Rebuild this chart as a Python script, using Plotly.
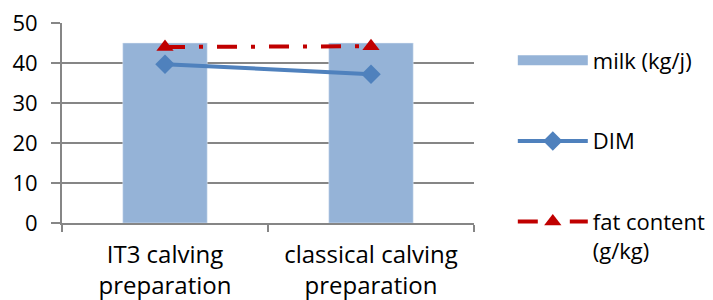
import plotly.graph_objects as go

categories = ["IT3 calving<br>preparation", "classical calving<br>preparation"]
milk = [45, 45]
dim = [39.7, 37.2]
fat = [44.0, 44.2]

FONT = "Open Sans"
GRID = "#868686"
BAR = "#95B3D7"

fig = go.Figure()
fig.add_trace(go.Bar(x=categories, y=milk, name="milk (kg/j)", marker_color=BAR,
                     width=0.41, showlegend=False))
# legend entry for the bars (wide rectangle like the reference)
fig.add_trace(go.Scatter(x=[None], y=[None], name="milk (kg/j)", mode="lines",
                         line=dict(color=BAR, width=15), legendgroup="a"))
fig.add_trace(go.Scatter(x=categories, y=dim, name="DIM", mode="lines+markers",
                         line=dict(color="#4F81BD", width=4),
                         marker=dict(symbol="diamond", size=15, color="#4F81BD"),
                         legendgroup="b"))
fig.add_trace(go.Scatter(x=categories, y=fat, name="fat content<br>(g/kg)", mode="lines+markers",
                         line=dict(color="#C00000", width=4, dash="20px,14px,4px,14px"),
                         marker=dict(symbol="triangle-up", size=15, color="#C00000"),
                         legendgroup="c"))

fig.update_layout(
    width=713, height=300,
    margin=dict(l=54, r=247, t=15, b=85, autoexpand=False),
    paper_bgcolor="white", plot_bgcolor="white",
    font=dict(family=FONT, size=20, color="#000000"),
    showlegend=True,
    legend=dict(xref="container", yref="container", x=0.708, y=0.895,
                xanchor="left", yanchor="top", itemwidth=70, tracegroupgap=49,
                valign="top", font=dict(size=22), bgcolor="rgba(0,0,0,0)",
                maxheight=1.0),
    bargap=0.59,
)
fig.update_xaxes(showgrid=False, showline=True, linecolor=GRID, linewidth=2,
                 ticks="outside", ticklen=7, tickcolor=GRID, tickwidth=2,
                 tickson="boundaries", automargin=False, tickfont=dict(size=24),
                 ticklabelstandoff=9, ticklabeloverflow="allow")
fig.update_yaxes(range=[0, 50], dtick=10, showgrid=True, gridcolor=GRID, gridwidth=2,
                 showline=True, linecolor=GRID, linewidth=2, zeroline=False,
                 ticks="outside", ticklen=9, tickcolor=GRID, tickwidth=2,
                 automargin=False, tickfont=dict(size=22), ticklabelstandoff=9,
                 ticklabeloverflow="allow")

fig.write_html("out.html")
